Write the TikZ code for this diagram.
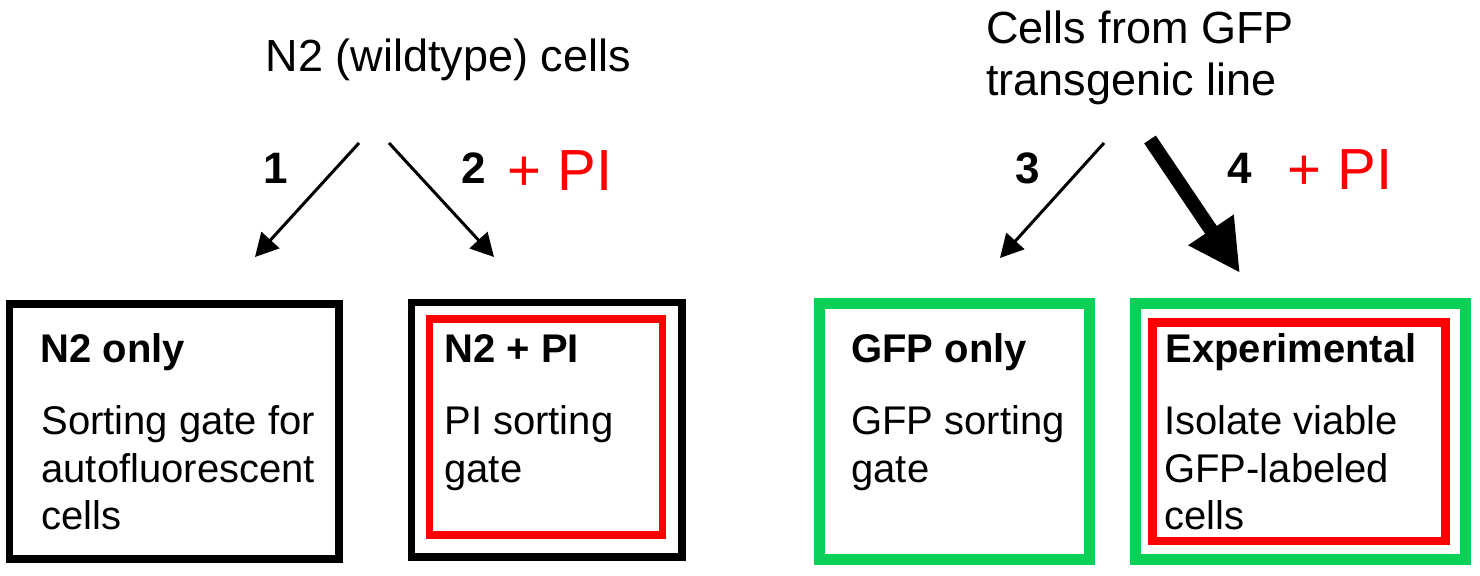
\documentclass[tikz,border=0pt]{standalone}
\usepackage{fontspec}
\setmainfont{Liberation Sans}
\usetikzlibrary{arrows.meta}
\definecolor{gfpgreen}{RGB}{10,208,88}
\definecolor{pired}{RGB}{255,0,0}
\begin{document}
\begin{tikzpicture}[x=0.5pt,y=-0.5pt,
  frame/.style={draw, rectangle, inner sep=0pt, outer sep=0pt},
  txt/.style={anchor=base west, inner sep=0pt, font=\fontsize{20}{24}\selectfont},
  btxt/.style={anchor=base west, inner sep=0pt, font=\bfseries\fontsize{20}{24}\selectfont},
  toptxt/.style={inner sep=0pt, font=\fontsize{22.5}{27}\selectfont},
  num/.style={anchor=base, inner sep=0pt, font=\bfseries\fontsize{22}{26}\selectfont},
  plus/.style={anchor=base west, inner sep=0pt, text=pired, font=\fontsize{29}{34}\selectfont},
  thinarrow/.style={line width=1.5pt, -{Triangle[length=11.5pt,width=12pt]}},
  thickarrow/.style={line width=7pt, -{Triangle[length=26pt,width=25.5pt]}}
]
\useasboundingbox (0,0) rectangle (1480,576);

% top texts
\node[toptxt, anchor=base] (n2) at (448.5,72) {N2 (wildtype) cells};
\node[toptxt, anchor=base west] (gfp1) at (986,44) {Cells from GFP};
\node[toptxt, anchor=base west] (gfp2) at (986,96) {transgenic line};

% arrow end points
\coordinate (a1s) at (359,143);
\coordinate (a1e) at (255,257);
\coordinate (a2s) at (389,143);
\coordinate (a2e) at (494,257);
\coordinate (a3s) at (1104,143);
\coordinate (a3e) at (1000,258);
\coordinate (a4s) at (1150,139.5);
\coordinate (a4e) at (1240,273);

\draw[thinarrow] (a1s) -- (a1e);
\draw[thinarrow] (a2s) -- (a2e);
\draw[thinarrow] (a3s) -- (a3e);
\draw[thickarrow] (a4s) -- (a4e);

% arrow labels
\node[num] (l1) at (276,184) {1};
\node[num] (l2) at (474,184) {2};
\node[plus] (p2) at (507,191) {+ PI};
\node[num] (l3) at (1028,184) {3};
\node[num] (l4) at (1240,184) {4};
\node[plus] (p4) at (1287,190) {+ PI};

% boxes
\node[frame, line width=3.75pt, minimum width=164.75pt, minimum height=127.5pt] (b1) at (174.25,431.5) {};
\node[frame, line width=3.75pt, minimum width=135.25pt, minimum height=127.25pt] (b2) at (546.75,429.75) {};
\node[frame, draw=pired, line width=3.75pt, minimum width=116.5pt, minimum height=108pt] (b2r) at (546,427) {};
\node[frame, draw=gfpgreen, line width=5.5pt, minimum width=135pt, minimum height=128pt] (b3) at (954.5,432) {};
\node[frame, draw=gfpgreen, line width=5.5pt, minimum width=165.25pt, minimum height=128pt] (b4) at (1300.25,432) {};
\node[frame, draw=pired, line width=4.25pt, minimum width=146.5pt, minimum height=109.25pt] (b4r) at (1299,431.75) {};

% box texts
\node[btxt] (t1a) at (40,363) {N2 only};
\node[txt] (t1b) at (41,435) {Sorting gate for};
\node[txt] (t1c) at (41,483) {autofluorescent};
\node[txt] (t1d) at (41,530) {cells};

\node[btxt] (t2a) at (444,363) {N2 + PI};
\node[txt] (t2b) at (444,435) {PI sorting};
\node[txt] (t2c) at (444,483) {gate};

\node[btxt] (t3a) at (851,363) {GFP only};
\node[txt] (t3b) at (851,435) {GFP sorting};
\node[txt] (t3c) at (851,483) {gate};

\node[btxt] (t4a) at (1165,363) {Experimental};
\node[txt] (t4b) at (1164,435) {Isolate viable};
\node[txt] (t4c) at (1164,483) {GFP-labeled};
\node[txt] (t4d) at (1164,530) {cells};
\end{tikzpicture}
\end{document}
